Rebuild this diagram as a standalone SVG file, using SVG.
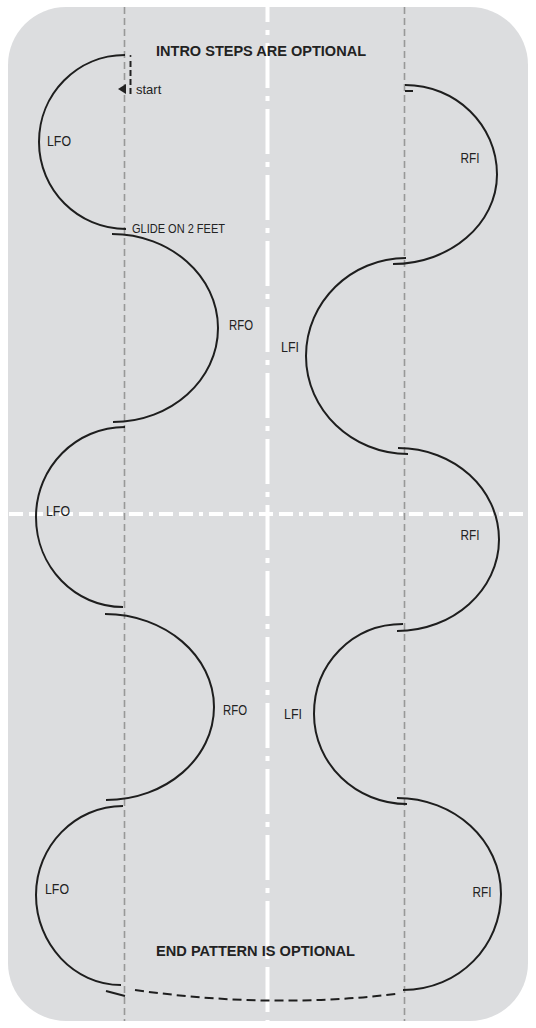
<svg xmlns="http://www.w3.org/2000/svg" width="536" height="1028" viewBox="0 0 536 1028">
<style>
.rink{fill:#dcdddf}
.cl{stroke:#fff;stroke-width:4;fill:none}
.gd{stroke:#989898;stroke-width:1.6;fill:none;stroke-dasharray:7 4}
.ed{stroke:#1e1e1e;stroke-width:2;fill:none}
.lb{font-family:"Liberation Sans",Arial,sans-serif;font-size:14px;fill:#222;text-anchor:middle}
.tt{font-family:"Liberation Sans",Arial,sans-serif;font-size:14px;font-weight:bold;fill:#222}
.sm{font-family:"Liberation Sans",Arial,sans-serif;font-size:13px;fill:#222}
</style>
<rect width="536" height="1028" fill="#fff"/>
<rect class="rink" x="8" y="7" width="520" height="1014" rx="58" ry="58"/>
<g id="lines">
<line class="cl" x1="267.5" y1="7" x2="267.5" y2="1021" stroke-dasharray="45 8 5 8" stroke-dashoffset="30"/>
<line class="cl" x1="9" y1="514" x2="527" y2="514" stroke-dasharray="14 6 14 6 4 6"/>
<line class="gd" x1="124.5" y1="7" x2="124.5" y2="1021"/>
<line class="gd" x1="404.5" y1="7" x2="404.5" y2="1021"/>
</g>
<g id="connectors">
<path class="ed" d="M106,991 L125,996"/>
<path class="ed" d="M135,990 Q268,1009 396,994" stroke-dasharray="9 5"/>
</g>
<g id="start">
<circle cx="130.5" cy="56" r="1" fill="#222"/>
<line x1="130.5" y1="61" x2="130.5" y2="94" stroke="#222" stroke-width="2" stroke-dasharray="6 3"/>
<polygon points="118,89 126,84 126,94" fill="#222"/>
<text class="sm" x="136" y="94">start</text>
</g>
<g id="l1"><path class="ed" d="M125,55 C77,55 39,94 39,142 C39,190 78,229 126,229"/><text class="lb" x="59" y="146" textLength="24" lengthAdjust="spacingAndGlyphs">LFO</text></g>
<g id="glide"><text class="sm" x="132" y="233" textLength="93" lengthAdjust="spacingAndGlyphs">GLIDE ON 2 FEET</text></g>
<g id="l2"><path class="ed" d="M112,234 C170,234 218,276 218,328 C218,380 171,422 113,422"/><text class="lb" x="241" y="330" textLength="24" lengthAdjust="spacingAndGlyphs">RFO</text></g>
<g id="l3"><path class="ed" d="M125,427 C76,427 36,467 36,517 C36,567 75,607 123,607"/><text class="lb" x="58" y="516" textLength="24" lengthAdjust="spacingAndGlyphs">LFO</text></g>
<g id="l4"><path class="ed" d="M105,614 C165,614 214,656 214,707 C214,758 166,800 106,800"/><text class="lb" x="235" y="715" textLength="24" lengthAdjust="spacingAndGlyphs">RFO</text></g>
<g id="l5"><path class="ed" d="M123,806 C75,806 36,846 36,895 C36,944 74,985 121,985"/><text class="lb" x="57" y="894" textLength="24" lengthAdjust="spacingAndGlyphs">LFO</text></g>
<g id="r1"><path class="ed" d="M405,85 C456,85 497,125 497,174.5 C497,224 450,264 393,264"/><path class="ed" d="M405,91 L413,91"/><text class="lb" x="470" y="163" textLength="19" lengthAdjust="spacingAndGlyphs">RFI</text></g>
<g id="r2"><path class="ed" d="M406,258 C351,258 306,302 306,356 C306,410 352,454 408,454"/><text class="lb" x="290" y="352" textLength="18" lengthAdjust="spacingAndGlyphs">LFI</text></g>
<g id="r3"><path class="ed" d="M398,448 C454,448 499,489 499,539.5 C499,590 453,631 397,631"/><text class="lb" x="470" y="540" textLength="19" lengthAdjust="spacingAndGlyphs">RFI</text></g>
<g id="r4"><path class="ed" d="M403,624 C352,624 314,664 314,714 C314,764 356,804 407,804"/><text class="lb" x="293" y="719" textLength="18" lengthAdjust="spacingAndGlyphs">LFI</text></g>
<g id="r5"><path class="ed" d="M397,798 C454,798 501,840 501,894 C501,945 460,990 403,990"/><text class="lb" x="482" y="897" textLength="19" lengthAdjust="spacingAndGlyphs">RFI</text></g>
<g id="titles">
<text class="tt" x="156" y="56" textLength="210" lengthAdjust="spacingAndGlyphs">INTRO STEPS ARE OPTIONAL</text>
<text class="tt" x="156" y="956" textLength="199" lengthAdjust="spacingAndGlyphs">END PATTERN IS OPTIONAL</text>
</g>
</svg>
